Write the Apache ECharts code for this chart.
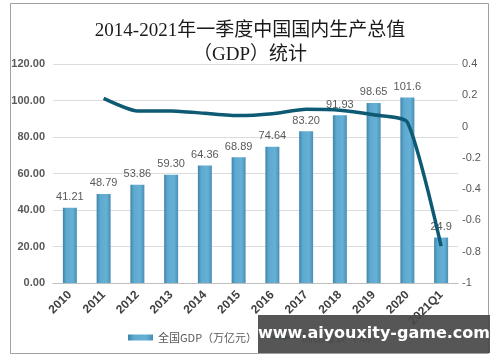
<!DOCTYPE html>
<html><head><meta charset="utf-8">
<script src="https://cdn.jsdelivr.net/npm/echarts@6/dist/echarts.min.js"></script>
<style>html,body{margin:0;padding:0;background:#fff}#c{width:500px;height:362px}</style>
</head><body><div id="c"></div>
<script>
const categories = ['2010','2011','2012','2013','2014','2015','2016','2017','2018','2019','2020','2021Q1'];
const gdpValues = [41.21, 48.79, 53.86, 59.30, 64.36, 68.89, 74.64, 83.20, 91.93, 98.65, 101.6, 24.9];
const gdpLabels = ['41.21','48.79','53.86','59.30','64.36','68.89','74.64','83.20','91.93','98.65','101.6','24.9'];
const growthValues = [null, 0.18, 0.10, 0.10, 0.085, 0.07, 0.082, 0.11, 0.105, 0.075, 0.028, -0.765];
const seriesNames = ['全国GDP（万亿元）', '同比增长（%）'];
const titleLines = ['2014-2021年一季度中国国内生产总值', '（GDP）统计'];
const watermark = 'www.aiyouxity-game.com';

const chart = echarts.init(document.getElementById('c'), null, {renderer: 'canvas'});
const axisFont = {fontFamily: 'Liberation Sans, Noto Sans CJK SC', fontSize: 11, color: '#595959'};
chart.setOption({
  animation: false,
  title: {
    text: titleLines.join('\n'),
    left: 'center', top: 14,
    textStyle: {fontFamily: 'Liberation Serif, Noto Sans CJK SC', fontSize: 19, fontWeight: 'normal', color: '#1a1a1a', lineHeight: 24}
  },
  legend: {
    left: 123, top: 327,
    itemGap: 14,
    textStyle: {fontFamily: 'Noto Sans CJK SC', fontSize: 11, color: '#595959'},
    data: [
      {name: seriesNames[0], icon: 'rect'},
      {name: seriesNames[1]}
    ],
    itemWidth: 25, itemHeight: 6
  },
  grid: {left: 53, right: 42, top: 64, bottom: 79},
  xAxis: {
    type: 'category', data: categories,
    axisLine: {lineStyle: {color: '#bfbfbf'}},
    axisTick: {show: false},
    axisLabel: Object.assign({}, axisFont, {rotate: 45, margin: 10, fontSize: 12, color: '#404040', fontWeight: 'bold', interval: 0})
  },
  yAxis: [{
    type: 'value', min: 0, max: 120, interval: 20,
    axisLine: {show: false}, axisTick: {show: false},
    splitLine: {lineStyle: {color: '#dcdcdc'}},
    axisLabel: Object.assign({}, axisFont, {margin: 8, fontWeight: 'bold', formatter: v => v.toFixed(2)})
  }, {
    type: 'value', min: -1, max: 0.4, interval: 0.2,
    axisLine: {show: false}, axisTick: {show: false},
    splitLine: {show: false},
    axisLabel: Object.assign({}, axisFont, {margin: 4, formatter: v => { const r = Math.round(v * 10) / 10; return r === 0 ? '0' : String(r); }})
  }],
  series: [{
    name: seriesNames[0], type: 'bar', data: gdpValues, barWidth: 14,
    itemStyle: {
      color: new echarts.graphic.LinearGradient(0, 0, 1, 0, [
        {offset: 0, color: '#3f84aa'}, {offset: 0.25, color: '#5ea9cf'},
        {offset: 0.7, color: '#66b0d6'}, {offset: 1, color: '#4a8fb5'}
      ])
    },
    label: {show: true, position: 'top', distance: 5, fontFamily: 'Liberation Sans', fontSize: 11, color: '#595959',
      formatter: p => gdpLabels[p.dataIndex]}
  }, {
    name: seriesNames[1], type: 'line', yAxisIndex: 1, data: growthValues,
    symbol: 'none', smooth: 0.2, connectNulls: false,
    lineStyle: {color: '#0e5a74', width: 3.5},
    itemStyle: {color: '#0e5a74'}, z: 5
  }],
  graphic: [
    {type: 'rect', shape: {x: 10.5, y: 3.5, width: 478, height: 350}, style: {fill: 'none', stroke: '#a0a0a0', lineWidth: 1}, z: -1, silent: true},
    {type: 'rect', shape: {x: 258, y: 315, width: 232, height: 38}, style: {fill: 'rgba(72,72,72,0.92)'}, z: 100},
    {type: 'text', x: 374, y: 334, z: 101, style: {text: watermark, fill: '#ffffff', font: 'bold 16px DejaVu Sans', align: 'center', verticalAlign: 'middle'}}
  ]
});
</script></body></html>
